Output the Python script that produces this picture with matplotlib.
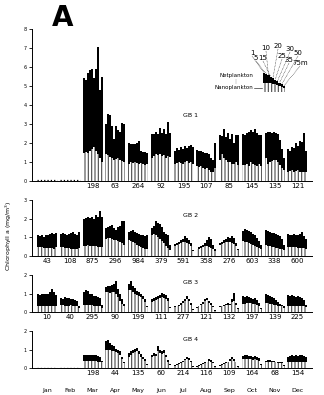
import numpy as np
import matplotlib
matplotlib.use("Agg")
from matplotlib import pyplot as plt

months = ['Jan', 'Feb', 'Mar', 'Apr', 'May', 'Jun', 'Jul', 'Aug', 'Sep', 'Oct', 'Nov', 'Dec']
depths = [1, 5, 10, 15, 20, 25, 30, 35, 50, 75]

# GB 1 -- total chlorophyll (net + nano) and nanoplankton part, one value per depth
gb1_total = [
    None, None,
    [5.4, 5.3, 5.7, 5.85, 5.9, 5.4, 5.9, 7.05, 4.8, 5.5],
    [3.0, 3.55, 3.45, 2.9, 2.2, 2.9, 2.7, 2.6, 3.05, 3.0],
    [2.0, 1.95, 1.95, 1.95, 2.0, 2.1, 1.6, 1.55, 1.55, 1.5],
    [2.45, 2.5, 2.6, 2.5, 2.8, 2.55, 2.75, 2.5, 3.1, 2.55],
    [1.6, 1.75, 1.65, 1.8, 1.7, 1.85, 1.75, 1.85, 1.9, 1.8],
    [1.65, 1.6, 1.6, 1.55, 1.5, 1.45, 1.4, 1.2, 1.1, 2.0],
    [2.4, 2.35, 2.75, 2.3, 2.55, 2.2, 2.45, 2.0, 2.4, 2.4],
    [2.5, 2.4, 2.55, 2.6, 2.7, 2.6, 2.75, 2.55, 2.4, 2.4],
    [2.55, 2.6, 2.6, 2.55, 2.6, 2.55, 2.5, 2.15, 1.7, 1.2],
    [1.7, 1.6, 1.8, 1.75, 2.0, 1.85, 2.1, 2.05, 2.55, 1.6],
]
gb1_nano = [
    None, None,
    [1.5, 1.55, 1.5, 1.6, 1.7, 1.8, 1.6, 1.4, 1.2, 1.0],
    [1.4, 1.35, 1.25, 1.2, 1.1, 1.15, 1.2, 1.1, 1.05, 1.0],
    [0.9, 1.0, 0.95, 1.0, 0.95, 0.9, 0.95, 0.9, 0.85, 0.9],
    [1.2, 1.3, 1.4, 1.35, 1.4, 1.3, 1.35, 1.2, 1.3, 1.25],
    [0.9, 0.95, 1.0, 0.95, 0.9, 1.0, 1.05, 0.95, 1.0, 0.9],
    [0.8, 0.75, 0.8, 0.7, 0.65, 0.7, 0.6, 0.5, 0.45, 0.7],
    [1.1, 1.4, 1.2, 1.1, 1.0, 1.0, 0.9, 0.9, 1.0, 0.85],
    [0.85, 0.85, 0.9, 0.8, 1.0, 0.9, 0.85, 0.8, 0.9, 0.8],
    [1.2, 0.9, 1.0, 1.05, 1.1, 1.1, 1.0, 0.85, 0.7, 0.6],
    [0.5, 0.55, 0.6, 0.5, 0.55, 0.6, 0.5, 0.45, 0.5, 0.45],
]
gb1_n = ['', '', '198', '63', '264', '92', '195', '107', '85', '145', '135', '121']

# GB 2
gb2_total = [
    [1.1, 1.05, 1.1, 1.0, 1.15, 1.1, 1.2, 1.25, 1.2, 1.25],
    [1.2, 1.25, 1.2, 1.15, 1.2, 1.25, 1.3, 1.2, 1.15, 1.3],
    [2.0, 2.05, 2.1, 2.05, 2.1, 2.0, 2.2, 2.1, 2.4, 2.1],
    [1.5, 1.55, 1.6, 1.65, 1.5, 1.4, 1.55, 1.6, 1.85, 1.9],
    [1.3, 1.35, 1.4, 1.3, 1.25, 1.2, 1.15, 1.1, 1.05, 1.1],
    [1.5, 1.6, 1.85, 1.75, 1.7, 1.55, 1.3, 1.2, 1.1, 0.6],
    [0.65, 0.7, 0.75, 0.85, 0.9, 1.05, 0.95, 0.85, 0.7, 0.3],
    [0.4, 0.5, 0.55, 0.6, 0.7, 0.85, 1.0, 0.9, 0.6, 0.35],
    [0.7, 0.75, 0.85, 0.9, 1.0, 0.95, 1.05, 0.95, 0.7, 0.4],
    [1.35, 1.45, 1.4, 1.35, 1.3, 1.2, 1.1, 0.95, 0.8, 0.6],
    [1.4, 1.35, 1.3, 1.25, 1.25, 1.2, 1.1, 1.05, 0.9, 0.6],
    [1.2, 1.15, 1.15, 1.2, 1.15, 1.15, 1.2, 1.3, 1.05, 0.9],
]
gb2_nano = [
    [0.5, 0.5, 0.5, 0.45, 0.45, 0.45, 0.45, 0.45, 0.4, 0.5],
    [0.5, 0.5, 0.45, 0.45, 0.45, 0.4, 0.4, 0.4, 0.35, 0.45],
    [0.55, 0.55, 0.6, 0.55, 0.55, 0.55, 0.55, 0.5, 0.5, 0.5],
    [0.9, 0.95, 0.95, 0.9, 0.85, 0.85, 0.8, 0.75, 0.7, 0.6],
    [0.85, 0.8, 0.75, 0.7, 0.6, 0.55, 0.5, 0.45, 0.4, 0.4],
    [1.1, 1.2, 1.15, 1.0, 0.9, 0.8, 0.7, 0.55, 0.45, 0.3],
    [0.55, 0.6, 0.65, 0.7, 0.75, 0.75, 0.7, 0.65, 0.55, 0.25],
    [0.35, 0.4, 0.45, 0.5, 0.55, 0.55, 0.5, 0.45, 0.4, 0.25],
    [0.6, 0.65, 0.7, 0.75, 0.75, 0.75, 0.7, 0.65, 0.55, 0.3],
    [0.8, 0.75, 0.75, 0.7, 0.65, 0.6, 0.55, 0.5, 0.45, 0.35],
    [0.6, 0.55, 0.55, 0.5, 0.5, 0.45, 0.45, 0.4, 0.35, 0.3],
    [0.5, 0.5, 0.5, 0.5, 0.5, 0.45, 0.45, 0.45, 0.45, 0.4],
]
gb2_n = ['43', '108', '875', '296', '984', '379', '591', '358', '276', '603', '338', '600']

# GB 3
gb3_total = [
    [0.95, 0.9, 0.95, 1.0, 0.95, 1.0, 1.1, 1.25, 1.1, 0.9],
    [0.75, 0.7, 0.8, 0.75, 0.75, 0.7, 0.7, 0.65, 0.6, 0.35],
    [1.1, 1.2, 1.15, 1.0, 0.95, 0.85, 0.85, 0.8, 0.75, 0.4],
    [1.35, 1.4, 1.4, 1.45, 1.5, 1.7, 1.25, 1.0, 0.7, 0.45],
    [1.5, 1.65, 1.4, 1.3, 1.15, 1.1, 1.0, 0.85, 0.7, 0.35],
    [0.7, 0.75, 0.8, 0.85, 0.9, 1.05, 0.95, 0.9, 0.75, 0.25],
    [0.3, 0.35, 0.4, 0.5, 0.6, 0.7, 0.85, 0.7, 0.5, 0.15],
    [0.25, 0.35, 0.45, 0.55, 0.7, 0.75, 0.6, 0.5, 0.3, 0.1],
    [0.3, 0.35, 0.4, 0.45, 0.5, 0.45, 0.7, 1.05, 0.5, 0.2],
    [0.85, 0.8, 0.85, 0.8, 0.75, 0.7, 0.75, 0.65, 0.5, 0.2],
    [0.95, 0.9, 0.85, 0.8, 0.75, 0.65, 0.55, 0.45, 0.4, 0.3],
    [0.9, 0.85, 0.9, 0.85, 0.8, 0.85, 0.8, 0.75, 0.65, 0.4],
]
gb3_nano = [
    [0.35, 0.35, 0.35, 0.35, 0.35, 0.35, 0.35, 0.35, 0.3, 0.3],
    [0.4, 0.4, 0.35, 0.35, 0.35, 0.4, 0.35, 0.3, 0.3, 0.2],
    [0.4, 0.4, 0.4, 0.4, 0.4, 0.35, 0.35, 0.35, 0.3, 0.2],
    [1.1, 1.1, 1.05, 1.1, 1.1, 1.0, 0.8, 0.6, 0.45, 0.3],
    [1.2, 1.2, 1.1, 1.0, 0.9, 0.85, 0.8, 0.7, 0.55, 0.25],
    [0.55, 0.6, 0.65, 0.7, 0.75, 0.8, 0.75, 0.7, 0.6, 0.2],
    [0.25, 0.3, 0.35, 0.4, 0.5, 0.6, 0.7, 0.6, 0.4, 0.1],
    [0.2, 0.3, 0.4, 0.45, 0.6, 0.65, 0.5, 0.4, 0.25, 0.08],
    [0.25, 0.3, 0.35, 0.4, 0.4, 0.4, 0.55, 0.6, 0.4, 0.15],
    [0.45, 0.45, 0.5, 0.5, 0.5, 0.45, 0.45, 0.4, 0.35, 0.15],
    [0.5, 0.5, 0.45, 0.45, 0.4, 0.4, 0.35, 0.3, 0.3, 0.2],
    [0.35, 0.35, 0.35, 0.35, 0.35, 0.35, 0.35, 0.35, 0.3, 0.25],
]
gb3_n = ['10', '40', '295', '90', '199', '111', '277', '121', '132', '197', '139', '225']

# GB 4
gb4_total = [
    None, None,
    [0.7, 0.7, 0.7, 0.7, 0.7, 0.7, 0.7, 0.65, 0.6, 0.4],
    [1.45, 1.5, 1.35, 1.25, 1.2, 1.05, 1.0, 0.9, 0.6, 0.3],
    [0.8, 0.9, 1.0, 1.05, 1.1, 0.9, 0.75, 0.6, 0.5, 0.2],
    [0.7, 0.8, 0.75, 1.2, 1.0, 0.9, 0.95, 0.7, 0.45, 0.2],
    [0.15, 0.2, 0.25, 0.3, 0.4, 0.5, 0.6, 0.55, 0.4, 0.1],
    [0.1, 0.15, 0.2, 0.25, 0.3, 0.35, 0.5, 0.45, 0.3, 0.1],
    [0.15, 0.2, 0.25, 0.3, 0.35, 0.5, 0.6, 0.5, 0.35, 0.1],
    [0.65, 0.7, 0.7, 0.65, 0.65, 0.6, 0.65, 0.6, 0.55, 0.2],
    [0.4, 0.45, 0.45, 0.4, 0.4, 0.35, 0.35, 0.3, 0.3, 0.15],
    [0.6, 0.65, 0.7, 0.65, 0.7, 0.65, 0.7, 0.7, 0.65, 0.6],
]
gb4_nano = [
    None, None,
    [0.4, 0.4, 0.4, 0.4, 0.4, 0.4, 0.4, 0.35, 0.35, 0.3],
    [1.0, 1.0, 0.95, 0.9, 0.9, 0.85, 0.8, 0.7, 0.5, 0.25],
    [0.6, 0.7, 0.8, 0.85, 0.9, 0.75, 0.6, 0.5, 0.4, 0.15],
    [0.6, 0.65, 0.65, 0.9, 0.8, 0.75, 0.8, 0.6, 0.35, 0.15],
    [0.12, 0.15, 0.2, 0.25, 0.35, 0.45, 0.5, 0.45, 0.3, 0.08],
    [0.08, 0.12, 0.15, 0.2, 0.25, 0.3, 0.4, 0.35, 0.25, 0.08],
    [0.12, 0.15, 0.2, 0.25, 0.3, 0.4, 0.5, 0.4, 0.3, 0.08],
    [0.5, 0.5, 0.5, 0.5, 0.5, 0.45, 0.5, 0.45, 0.4, 0.15],
    [0.3, 0.3, 0.3, 0.3, 0.3, 0.3, 0.25, 0.25, 0.25, 0.1],
    [0.35, 0.35, 0.35, 0.35, 0.35, 0.35, 0.35, 0.35, 0.35, 0.3],
]
gb4_n = ['', '', '198', '44', '135', '60', '214', '116', '109', '164', '68', '154']

plt.rcParams['font.family'] = ['DejaVu Sans']
plt.rcParams['hatch.linewidth'] = 0.8
fig = plt.figure(figsize=(3.24, 3.95), dpi=100)

W, H = 324.0, 395.0
step = 0.088  # spacing of depth bars inside one month group
nano_grey = '#4a4a4a'


def nano_bars(ax, xs, heights, width):
    # nanoplankton part: white with vertical grey stripes
    ax.bar(xs, heights, width=width, facecolor='white', edgecolor=nano_grey,
           hatch='|||||', linewidth=0)


def panel(rect, totals, nanos, counts, ymax, name, name_y):
    # rect in pixels: left, zero-line y, right, top-tick y
    left, y0, right, ytop = rect
    ax = fig.add_axes([left / W, 1 - y0 / H, (right - left) / W, (y0 - ytop) / H])
    for m in range(12):
        x0 = m + 0.02
        if totals[m] is None:
            ax.plot([x0, x0 + step * 10], [0.03 * ymax / 8, 0.03 * ymax / 8], ls=':', color='k', lw=0.9)
            continue
        xs = x0 + step * np.arange(len(depths)) + step / 2
        tot = np.array(totals[m])
        nano = np.array(nanos[m])
        ax.bar(xs, tot - nano, bottom=nano, width=step, color='black', linewidth=0)
        nano_bars(ax, xs, nano, step)
    ax.set_xlim(-0.2, 12.1)
    ax.set_ylim(0, ymax)
    ax.set_yticks(range(ymax + 1))
    ax.set_xticks(np.arange(12) + 0.02 + step * 5)
    ax.set_xticklabels(counts, fontsize=5)
    ax.tick_params(axis='x', length=0, pad=1.5)
    ax.tick_params(axis='y', length=2.5, width=0.6, labelsize=3.5, pad=1.5)
    for s in ['top', 'right']:
        ax.spines[s].set_visible(False)
    ax.spines['left'].set_linewidth(0.7)
    ax.spines['bottom'].set_linewidth(0.7)
    ax.text(0.565, name_y, name, transform=ax.transAxes, fontsize=4.5, ha='center', va='center')
    return ax


ax1 = panel((32, 181, 312, 29), gb1_total, gb1_nano, gb1_n, 8, 'GB 1', 0.43)
ax2 = panel((32, 256, 312, 200), gb2_total, gb2_nano, gb2_n, 3, 'GB 2', 0.73)
ax3 = panel((32, 312, 312, 275), gb3_total, gb3_nano, gb3_n, 2, 'GB 3', 0.81)
ax4 = panel((32, 368, 312, 331), gb4_total, gb4_nano, gb4_n, 2, 'GB 4', 0.76)

# month names under the last panel
for m, name in enumerate(months):
    ax4.text(m + 0.02 + step * 5, -0.62, name, transform=ax4.get_xaxis_transform(),
             fontsize=4.5, ha='center', va='center')

fig.text(52 / W, 1 - 18 / H, 'A', fontsize=20, fontweight='bold', va='center', ha='left')
fig.text(9 / W, 1 - 236 / H, 'Chlorophyll a (mg/m$^3$)', rotation=90, fontsize=4.5,
         ha='center', va='center')

# key: small bar group with depth labels
key = fig.add_axes([263 / W, 1 - 92 / H, 22 / W, 20 / H])
key_tot = [1.0, 0.95, 0.88, 0.8, 0.72, 0.64, 0.56, 0.48, 0.4, 0.32]
key_nano = [0.45, 0.45, 0.45, 0.45, 0.42, 0.4, 0.36, 0.32, 0.28, 0.22]
kx = np.arange(len(depths))
key.bar(kx, np.array(key_tot) - np.array(key_nano), bottom=key_nano, width=1.0, color='black', linewidth=0)
nano_bars(key, kx, key_nano, 1.0)
key.set_xlim(-0.5, 9.5)
key.set_ylim(0, 1.05)
key.axis('off')

label_pos = [(252, 53), (256, 58), (266, 48), (263, 58), (278, 46), (282, 56),
             (290, 49), (289, 60), (298, 53), (300, 63)]
for d, (px, py), i in zip(depths, label_pos, kx):
    txt = f'{d}m' if d == 75 else str(d)
    fig.text(px / W, 1 - py / H, txt, fontsize=5, ha='center', va='center')
    bx = (263 + 22 * (i + 0.5) / 10) / W
    by = 1 - (92 - 20 * key_tot[i] / 1.05) / H
    fig.add_artist(plt.Line2D([px / W, bx], [1 - (py + 3) / H, by], color='black',
                              lw=0.35, ls=(0, (1.5, 1.5))))

fig.text(253 / W, 1 - 76 / H, 'Netplankton', fontsize=4, ha='right', va='center')
fig.text(253 / W, 1 - 88 / H, 'Nanoplankton', fontsize=4, ha='right', va='center')
fig.add_artist(plt.Line2D([254 / W, 262 / W], [1 - 88 / H, 1 - 88 / H], color='black', lw=0.4))
fig.add_artist(plt.Line2D([236 / W, 236 / W], [1 - 79 / H, 1 - 84 / H], color='black', lw=0.3, ls=':'))

fig.savefig('out.png', dpi=100)
